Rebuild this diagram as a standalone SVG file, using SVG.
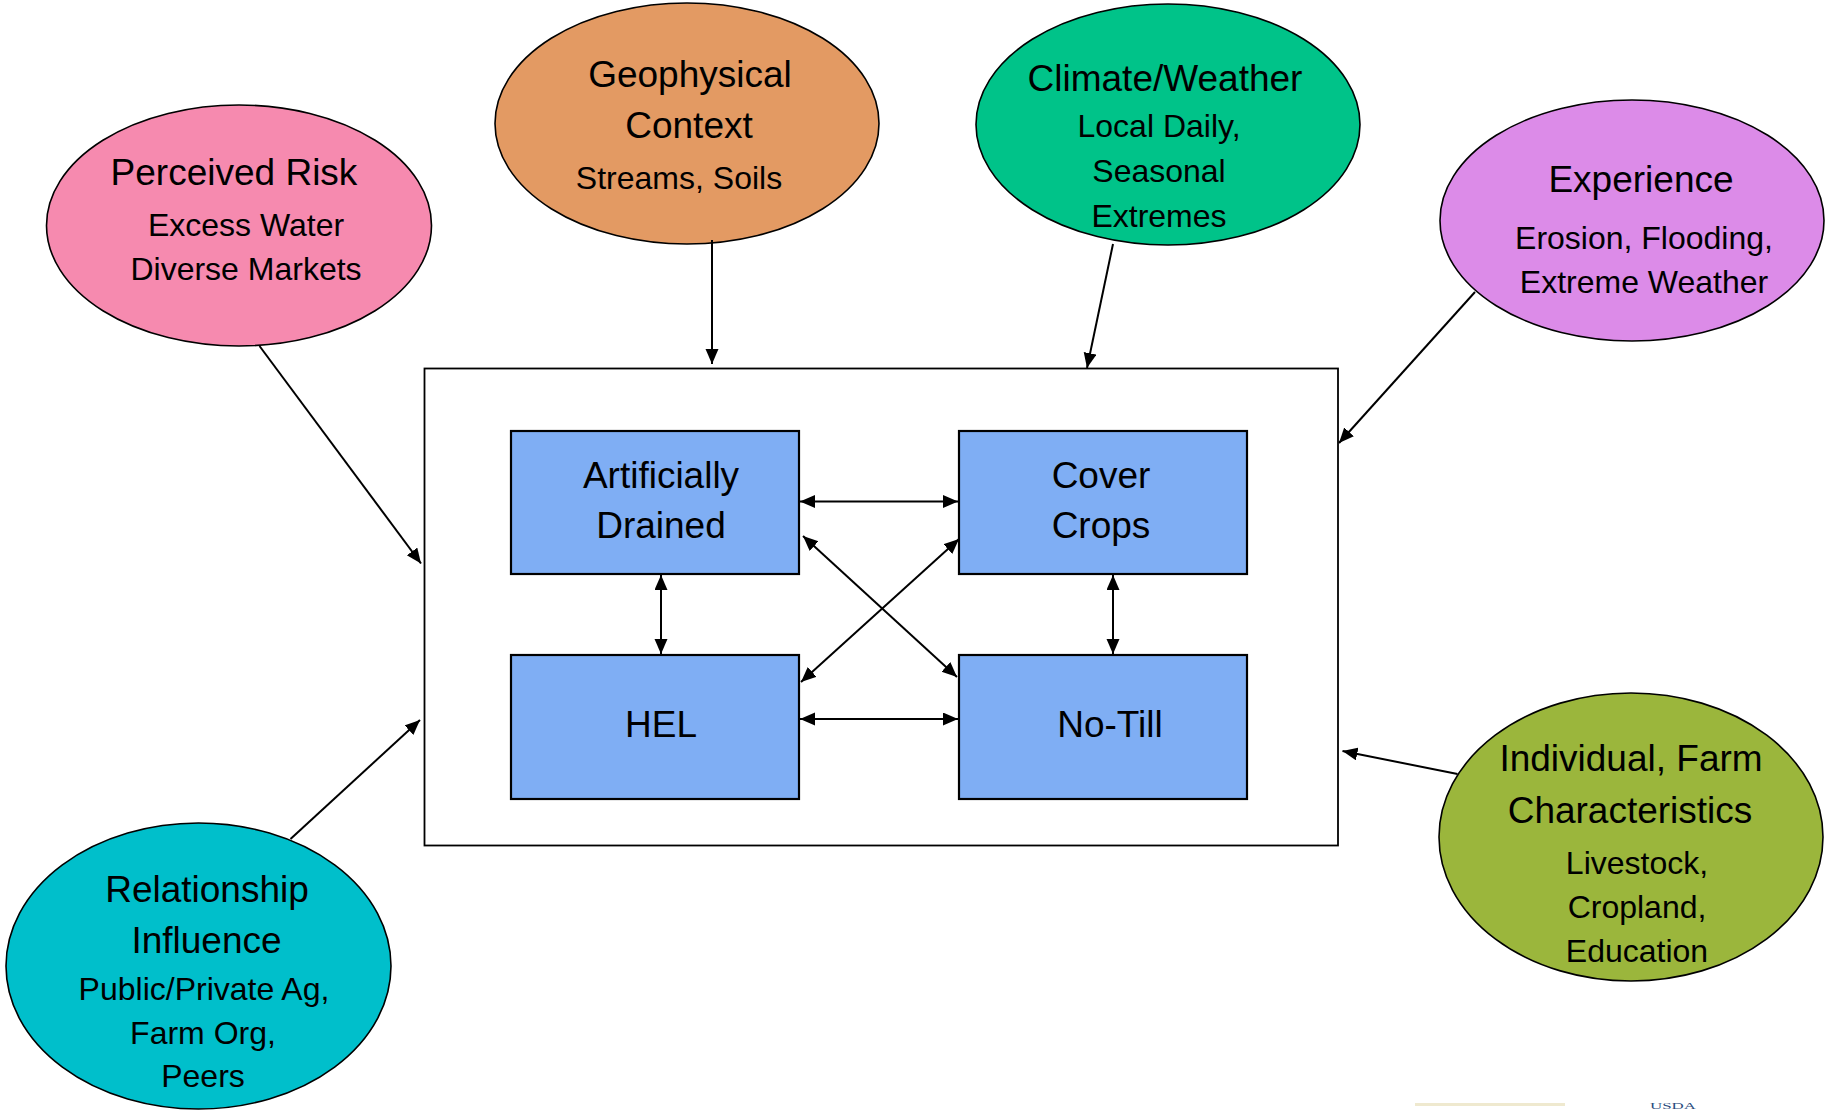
<svg xmlns="http://www.w3.org/2000/svg" width="1830" height="1110" viewBox="0 0 1830 1110">
<style>
  .ell { stroke: #000; stroke-width: 1.6; }
  .box { fill: #7FAEF4; stroke: #000; stroke-width: 2.2; }
  .t { font-family: "Liberation Sans", Arial, sans-serif; fill: #000; text-anchor: middle; }
  .h { font-size: 37px; }
  .s { font-size: 32px; }
  .c { stroke: #000; stroke-width: 2; fill: none; }
</style>
<defs>
  <marker id="ah" markerUnits="userSpaceOnUse" markerWidth="16" markerHeight="14" refX="15" refY="6.5" orient="auto-start-reverse" viewBox="0 0 16 14">
    <path d="M0,0 L15,6.5 L0,13 z" fill="#000"/>
  </marker>
</defs>
<rect width="1830" height="1110" fill="#fff"/>

<g id="outer-box">
  <rect x="424.5" y="368.5" width="913.5" height="477" fill="#fff" stroke="#000" stroke-width="1.8"/>
</g>

<g id="perceived-risk">
  <ellipse class="ell" cx="239" cy="225.5" rx="192.5" ry="120.5" fill="#F68AAF"/>
  <text class="t h" x="234" y="185">Perceived Risk</text>
  <text class="t s" x="246" y="236">Excess Water</text>
  <text class="t s" x="246" y="280">Diverse Markets</text>
</g>

<g id="geophysical">
  <ellipse class="ell" cx="687" cy="123.5" rx="192" ry="120.5" fill="#E39A63"/>
  <text class="t h" x="690" y="87">Geophysical</text>
  <text class="t h" x="689" y="138">Context</text>
  <text class="t s" x="679" y="189">Streams, Soils</text>
</g>

<g id="climate">
  <ellipse class="ell" cx="1168" cy="124.5" rx="192" ry="120.5" fill="#00C389"/>
  <text class="t h" x="1165" y="91">Climate/Weather</text>
  <text class="t s" x="1159" y="137">Local Daily,</text>
  <text class="t s" x="1159" y="182">Seasonal</text>
  <text class="t s" x="1159" y="227">Extremes</text>
</g>

<g id="experience">
  <ellipse class="ell" cx="1632" cy="220.5" rx="192" ry="120.5" fill="#DC8BE8"/>
  <text class="t h" x="1641" y="192">Experience</text>
  <text class="t s" x="1644" y="249">Erosion, Flooding,</text>
  <text class="t s" x="1644" y="293">Extreme Weather</text>
</g>

<g id="relationship">
  <ellipse class="ell" cx="198.5" cy="966" rx="192.5" ry="143" fill="#00BFCB"/>
  <text class="t h" x="207" y="902">Relationship</text>
  <text class="t h" x="206.5" y="953">Influence</text>
  <text class="t s" x="204" y="1000">Public/Private Ag,</text>
  <text class="t s" x="203" y="1044">Farm Org,</text>
  <text class="t s" x="203" y="1087">Peers</text>
</g>

<g id="individual">
  <ellipse class="ell" cx="1631" cy="837" rx="192" ry="144" fill="#9BB63C"/>
  <text class="t h" x="1631" y="771">Individual, Farm</text>
  <text class="t h" x="1630" y="823">Characteristics</text>
  <text class="t s" x="1637" y="874">Livestock,</text>
  <text class="t s" x="1637" y="918">Cropland,</text>
  <text class="t s" x="1637" y="962">Education</text>
</g>

<g id="artificially-drained">
  <rect class="box" x="511" y="431" width="288" height="143"/>
  <text class="t h" x="661" y="488">Artificially</text>
  <text class="t h" x="661" y="538">Drained</text>
</g>

<g id="cover-crops">
  <rect class="box" x="959" y="431" width="288" height="143"/>
  <text class="t h" x="1101" y="488">Cover</text>
  <text class="t h" x="1101" y="538">Crops</text>
</g>

<g id="hel">
  <rect class="box" x="511" y="655" width="288" height="144"/>
  <text class="t h" x="661" y="737">HEL</text>
</g>

<g id="no-till">
  <rect class="box" x="959" y="655" width="288" height="144"/>
  <text class="t h" x="1110" y="737">No-Till</text>
</g>

<g id="connectors">
  <line class="c" x1="712" y1="240" x2="712" y2="364" marker-end="url(#ah)"/>
  <line class="c" x1="1113" y1="244" x2="1087" y2="368" marker-end="url(#ah)"/>
  <line class="c" x1="1475" y1="292" x2="1339" y2="443" marker-end="url(#ah)"/>
  <line class="c" x1="259.5" y1="346" x2="421" y2="563.5" marker-end="url(#ah)"/>
  <line class="c" x1="290.5" y1="839" x2="420" y2="720" marker-end="url(#ah)"/>
  <line class="c" x1="1457.5" y1="774" x2="1342.5" y2="751" marker-end="url(#ah)"/>

  <line class="c" x1="800" y1="501.5" x2="958" y2="501.5" marker-start="url(#ah)" marker-end="url(#ah)"/>
  <line class="c" x1="800" y1="719" x2="958" y2="719" marker-start="url(#ah)" marker-end="url(#ah)"/>
  <line class="c" x1="661" y1="575" x2="661" y2="654" marker-start="url(#ah)" marker-end="url(#ah)"/>
  <line class="c" x1="1113" y1="575" x2="1113" y2="654" marker-start="url(#ah)" marker-end="url(#ah)"/>
  <line class="c" x1="803" y1="536" x2="957" y2="677" marker-start="url(#ah)" marker-end="url(#ah)"/>
  <line class="c" x1="959" y1="539" x2="801" y2="682" marker-start="url(#ah)" marker-end="url(#ah)"/>
</g>

<g id="footer">
  <rect x="1415" y="1103" width="150" height="3" fill="#efe9cf"/>
  <text x="1650" y="1109" font-family="Liberation Serif, serif" font-size="9" fill="#2b4c7e" textLength="46" lengthAdjust="spacingAndGlyphs">USDA</text>
</g>
</svg>
